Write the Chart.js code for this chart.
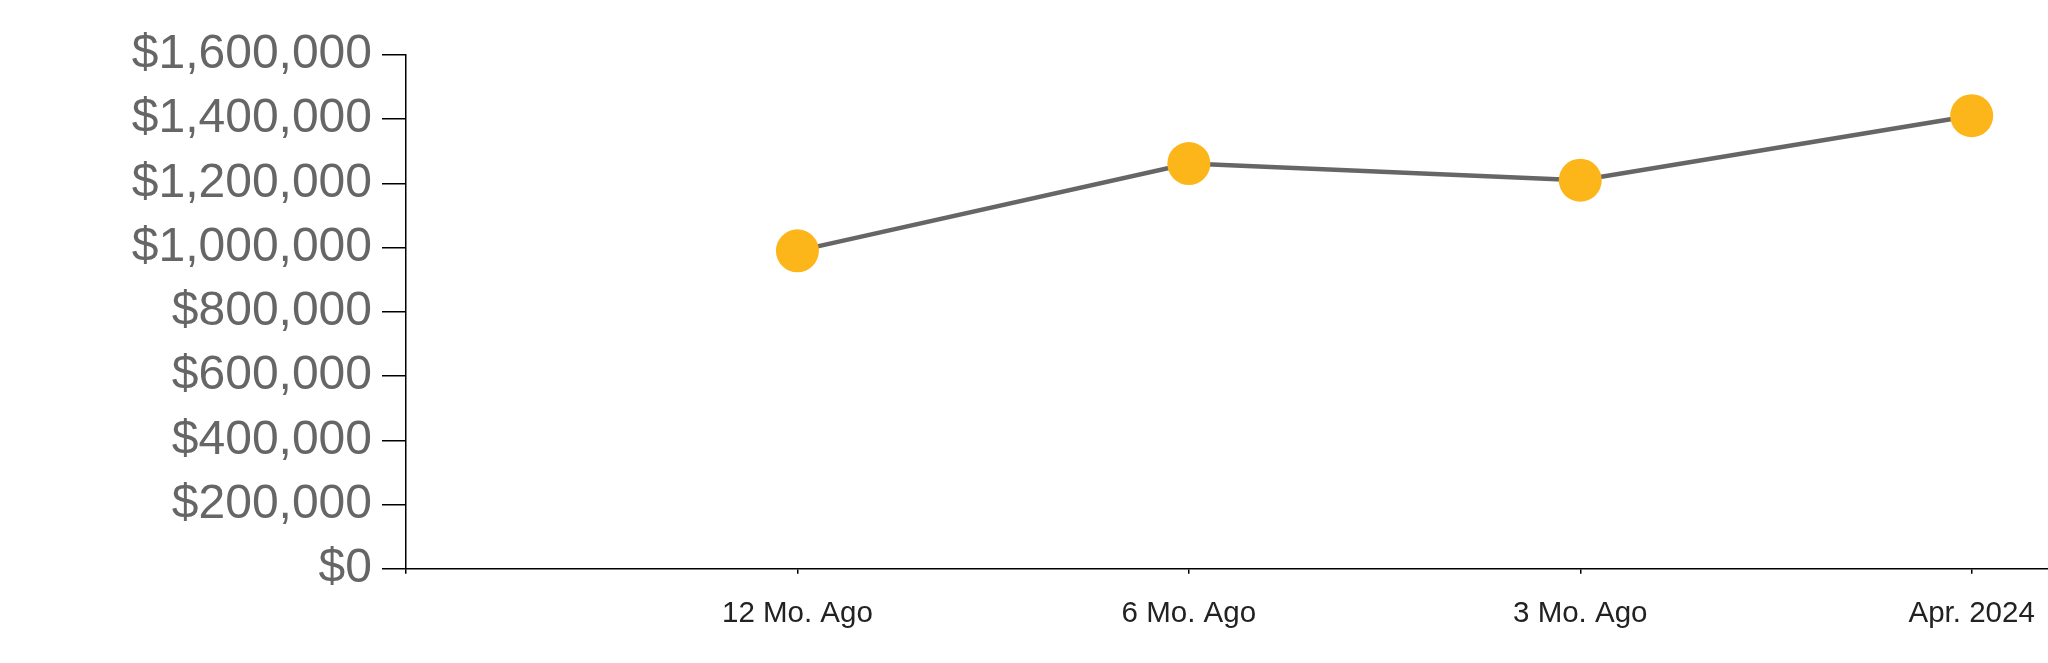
<!DOCTYPE html>
<html>
<head>
<meta charset="utf-8">
<script src="https://cdn.jsdelivr.net/npm/chart.js@4"></script>
<style>
  html, body { margin: 0; padding: 0; background: #ffffff; }
  #wrap { width: 2048px; height: 663px; position: relative; }
</style>
</head>
<body>
<div id="wrap"><canvas id="c" width="2048" height="663"></canvas></div>
<script>
// Data
const categories = ["12 Mo. Ago", "6 Mo. Ago", "3 Mo. Ago", "Apr. 2024"];
const medianValues = [990000, 1262000, 1210000, 1411000];
const yTickValues = [0, 200000, 400000, 600000, 800000, 1000000, 1200000, 1400000, 1600000];

const points = categories.map((c, i) => ({ x: i + 1, y: medianValues[i] }));

new Chart(document.getElementById('c'), {
  type: 'line',
  data: {
    datasets: [{
      data: points,
      borderColor: '#666666',
      borderWidth: 4.5,
      backgroundColor: '#fcb61a',
      pointBackgroundColor: '#fcb61a',
      pointBorderWidth: 0,
      pointRadius: 21.5,
      pointHoverRadius: 21.5,
      tension: 0,
      fill: false,
      clip: false
    }]
  },
  options: {
    responsive: false,
    animation: false,
    layout: { autoPadding: false, padding: { top: 55, right: 0, bottom: 0, left: 0 } },
    plugins: { legend: { display: false }, tooltip: { enabled: false } },
    scales: {
      x: {
        type: 'linear',
        min: 0,
        max: 4.195,
        afterFit: (s) => { s.height = 94.3; s.paddingLeft = 0; s.paddingRight = 0; },
        afterBuildTicks: (s) => { s.ticks = [0, 1, 2, 3, 4].map(v => ({ value: v })); },
        ticks: {
          stepSize: 1,
          includeBounds: false,
          autoSkip: false,
          maxRotation: 0,
          padding: 22,
          color: '#222222',
          font: { family: "'Liberation Sans', Arial, sans-serif", size: 29.5 },
          callback: (v) => (Number.isInteger(v) && v >= 1 && v <= categories.length) ? categories[v - 1] : ''
        },
        grid: { display: true, drawOnChartArea: false, drawTicks: true, tickLength: 5, color: '#000000', lineWidth: 1.5 },
        border: { display: true, color: '#000000', width: 1.5 }
      },
      y: {
        min: 0,
        max: 1600000,
        afterFit: (s) => { s.width = 406; },
        afterBuildTicks: (s) => { s.ticks = yTickValues.map(v => ({ value: v })); },
        ticks: {
          stepSize: 200000,
          padding: 10,
          color: '#666666',
          font: { family: "'Liberation Sans', Arial, sans-serif", size: 48 },
          callback: (v) => '$' + Number(v).toLocaleString('en-US')
        },
        grid: { display: true, drawOnChartArea: false, drawTicks: true, tickLength: 24, color: '#000000', lineWidth: 1.5 },
        border: { display: true, color: '#000000', width: 1.5 }
      }
    }
  }
});
</script>
</body>
</html>
